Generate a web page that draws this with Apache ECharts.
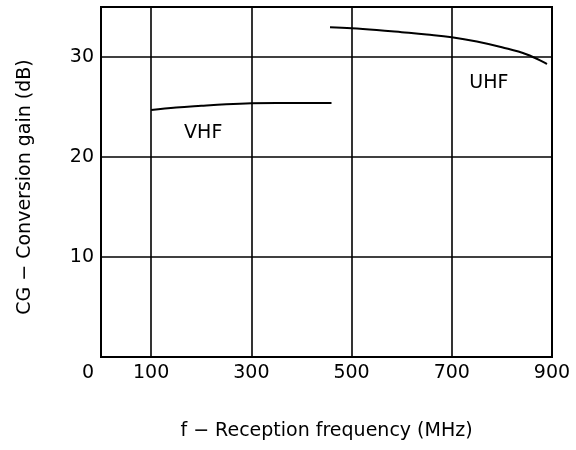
<!DOCTYPE html>
<html>
<head>
<meta charset="utf-8">
<script src="https://cdn.jsdelivr.net/npm/echarts@6/dist/echarts.min.js"></script>
<style>html,body{margin:0;padding:0;background:#fff;}#c{width:576px;height:450px;}</style>
</head>
<body>
<div id="c"></div>
<script>
// Reception frequency (MHz) and conversion gain (dB)
const vhfFreq = [100, 150, 200, 250, 300, 350, 400, 460];
const vhfGain = [24.7, 24.95, 25.12, 25.27, 25.37, 25.4, 25.4, 25.4];
const uhfFreq = [457, 500, 550, 600, 650, 700, 750, 800, 850, 890];
const uhfGain = [32.98, 32.88, 32.7, 32.48, 32.25, 31.98, 31.55, 30.97, 30.25, 29.3];
const xTickLabels = [0, 100, 300, 500, 700, 900];
const xGridLines = [100, 300, 500, 700];
const yTickLabels = [10, 20, 30];
const vhfLabel = {text: 'VHF', at: [204, 22.35]};
const uhfLabel = {text: 'UHF', at: [774, 27.35]};

const font = 'DejaVu Sans';
const chart = echarts.init(document.getElementById('c'), null, {renderer: 'canvas'});
chart.setOption({
  animation: false,
  backgroundColor: '#fff',
  grid: {left: 101, right: 24, top: 7, bottom: 93, show: true, borderColor: '#000', borderWidth: 2, backgroundColor: 'transparent'},
  xAxis: {
    type: 'value', min: 0, max: 900, interval: 100,
    name: 'f − Reception frequency (MHz)', nameLocation: 'middle', nameGap: 65,
    nameTextStyle: {fontFamily: font, fontSize: 19, color: '#000'},
    axisLine: {show: false}, axisTick: {show: false}, splitLine: {show: false},
    axisLabel: {
      margin: 7, color: '#000', fontFamily: font, fontSize: 19,
      formatter: v => v === 0 ? '{z|0}' : (xTickLabels.indexOf(v) >= 0 ? String(v) : ''),
      rich: {z: {fontFamily: font, fontSize: 19, color: '#000', padding: [0, 26, 0, 0]}}
    }
  },
  yAxis: {
    type: 'value', min: 0, max: 35, interval: 10,
    name: 'CG − Conversion gain (dB)', nameLocation: 'middle', nameGap: 66,
    nameTextStyle: {fontFamily: font, fontSize: 19, color: '#000', padding: [0, 10, 0, 0]},
    axisLine: {show: false}, axisTick: {show: false},
    splitLine: {show: true, lineStyle: {color: '#000', width: 1.6}},
    axisLabel: {
      margin: 7, color: '#000', fontFamily: font, fontSize: 19,
      formatter: v => yTickLabels.indexOf(v) >= 0 ? String(v) : ''
    }
  },
  series: [
    {
      name: 'VHF', type: 'line', smooth: 0.4, showSymbol: false,
      data: vhfFreq.map((f, i) => [f, vhfGain[i]]),
      lineStyle: {color: '#000', width: 2}, itemStyle: {color: '#000'},
      markLine: {
        silent: true, symbol: 'none', label: {show: false},
        lineStyle: {color: '#000', width: 1.6, type: 'solid'},
        data: xGridLines.map(x => ({xAxis: x}))
      },
      markPoint: {
        symbol: 'circle', symbolSize: 0,
        label: {show: true, position: 'inside', color: '#000', fontFamily: font, fontSize: 19, formatter: vhfLabel.text},
        data: [{coord: vhfLabel.at}]
      }
    },
    {
      name: 'UHF', type: 'line', smooth: 0.4, showSymbol: false,
      data: uhfFreq.map((f, i) => [f, uhfGain[i]]),
      lineStyle: {color: '#000', width: 2}, itemStyle: {color: '#000'},
      markPoint: {
        symbol: 'circle', symbolSize: 0,
        label: {show: true, position: 'inside', color: '#000', fontFamily: font, fontSize: 19, formatter: uhfLabel.text},
        data: [{coord: uhfLabel.at}]
      }
    }
  ]
});
</script>
</body>
</html>
